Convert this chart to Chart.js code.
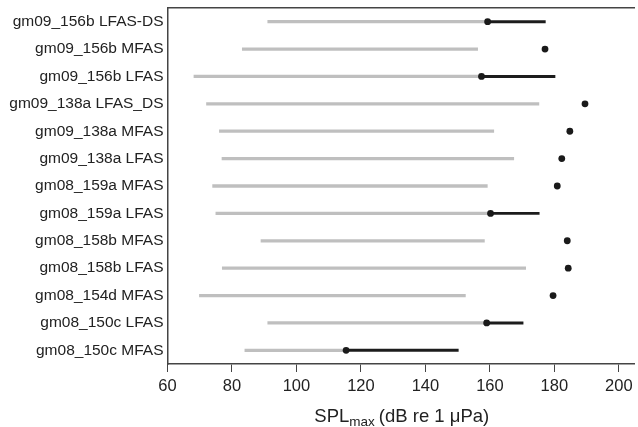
<!DOCTYPE html>
<html lang="en">
<head>
    <meta charset="UTF-8">
    <title>SPL max ranges</title>
    <style>
        body {
            margin: 0;
            background: #fff;
        }
        #wrap {
            width: 638px;
            height: 427px;
        }
    </style>
    <script src="https://cdn.jsdelivr.net/npm/chart.js"></script>
</head>
<body>
    <div id="wrap"><canvas id="splChart"></canvas></div>

    <script>
        // Recordings, top to bottom
        let labels = [
            'gm09_156b LFAS-DS', 'gm09_156b MFAS', 'gm09_156b LFAS', 'gm09_138a LFAS_DS',
            'gm09_138a MFAS', 'gm09_138a LFAS', 'gm08_159a MFAS', 'gm08_159a LFAS',
            'gm08_158b MFAS', 'gm08_158b LFAS', 'gm08_154d MFAS', 'gm08_150c LFAS', 'gm08_150c MFAS'
        ];
        // Gray range (low to high)
        let grayLow = [91.1, 83.2, 68.2, 72.1, 76.1, 76.9, 74.0, 75.0, 89.0, 77.0, 69.9, 91.1, 84.0];
        let grayHigh = [159.3, 156.2, 157.4, 175.2, 161.2, 167.4, 159.2, 160.2, 158.3, 171.1, 152.4, 159.0, 115.4];
        // Black dot and black range end (null = no black range)
        let dotValues = [159.3, 177.1, 157.4, 189.5, 184.8, 182.3, 180.9, 160.2, 184.0, 184.3, 179.6, 159.0, 115.4];
        let blackHigh = [177.2, null, 180.2, null, null, null, null, 175.3, null, null, null, 170.3, 150.2];
        let xTicks = [60, 80, 100, 120, 140, 160, 180, 200];

        let axisColor = '#444444';
        let fontFamily = '"Liberation Sans", Arial, sans-serif';

        let grayData = labels.map((l, i) => [grayLow[i], grayHigh[i]]);
        let blackData = labels.map((l, i) => blackHigh[i] === null ? null : [dotValues[i], blackHigh[i]]);
        let dotData = labels.map((l, i) => ({ x: dotValues[i], y: l }));

        // Axis title with a subscript
        const axisTitle = {
            id: 'axisTitle',
            afterDraw(chart) {
                let ctx = chart.ctx;
                let area = chart.chartArea;
                let mainFont = '18.5px ' + fontFamily;
                let subFont = '13.5px ' + fontFamily;
                let rest = '(dB re 1 \u03bcPa)';
                ctx.save();
                ctx.fillStyle = '#222';
                ctx.textBaseline = 'alphabetic';
                ctx.font = mainFont;
                let w1 = ctx.measureText('SPL').width;
                let w3 = ctx.measureText(rest).width;
                ctx.font = subFont;
                let w2 = ctx.measureText('max').width;
                let gap = 4;
                let total = w1 + w2 + gap + w3;
                let x = (area.left + area.right) / 2 + 1 - total / 2;
                ctx.font = mainFont;
                ctx.fillText('SPL', x, 422);
                ctx.font = subFont;
                ctx.fillText('max', x + w1, 425.5);
                ctx.font = mainFont;
                ctx.fillText(rest, x + w1 + w2 + gap, 422);
                ctx.restore();
            }
        };

        let ctx = document.getElementById('splChart').getContext('2d');
        let splChart = new Chart(ctx, {
            type: 'bar',
            data: {
                labels: labels,
                datasets: [
                    {
                        type: 'scatter',
                        data: dotData,
                        backgroundColor: '#1a1a1a',
                        borderColor: '#1a1a1a',
                        pointRadius: 3.4,
                        pointBorderWidth: 0,
                        order: 1
                    },
                    {
                        data: blackData,
                        backgroundColor: '#1c1c1c',
                        barThickness: 2.3,
                        grouped: false,
                        order: 2
                    },
                    {
                        data: grayData,
                        backgroundColor: '#bfbfbf',
                        barThickness: 2.6,
                        grouped: false,
                        order: 3
                    }
                ]
            },
            options: {
                indexAxis: 'y',
                responsive: true,
                maintainAspectRatio: false,
                animation: false,
                layout: { padding: 0 },
                plugins: {
                    legend: { display: false },
                    tooltip: { enabled: false }
                },
                scales: {
                    x: {
                        type: 'linear',
                        position: 'bottom',
                        min: 60,
                        max: 204.7,
                        afterFit: scale => { scale.height = 63; },
                        afterBuildTicks: scale => { scale.ticks = xTicks.map(v => ({ value: v })); },
                        grid: {
                            drawOnChartArea: false,
                            drawTicks: true,
                            tickLength: 8,
                            color: axisColor
                        },
                        border: { display: true, color: axisColor, width: 1.5 },
                        ticks: {
                            padding: 4.5,
                            color: '#222',
                            maxRotation: 0,
                            font: { family: fontFamily, size: 16.5 }
                        }
                    },
                    xTop: {
                        type: 'linear',
                        position: 'top',
                        min: 0,
                        max: 1,
                        afterFit: scale => { scale.height = 8; },
                        grid: { drawOnChartArea: false, drawTicks: false },
                        border: { display: true, color: axisColor, width: 1.5 },
                        ticks: { display: false }
                    },
                    y: {
                        type: 'category',
                        offset: true,
                        afterFit: scale => {
                            scale.width = 167.5;
                            scale.paddingTop = 0;
                            scale.paddingBottom = 0;
                        },
                        grid: { drawOnChartArea: false, drawTicks: false },
                        border: { display: true, color: axisColor, width: 1.5 },
                        ticks: {
                            padding: 4,
                            color: '#222',
                            autoSkip: false,
                            font: { family: fontFamily, size: 15.5 }
                        }
                    }
                }
            },
            plugins: [axisTitle]
        });
    </script>
</body>
</html>
